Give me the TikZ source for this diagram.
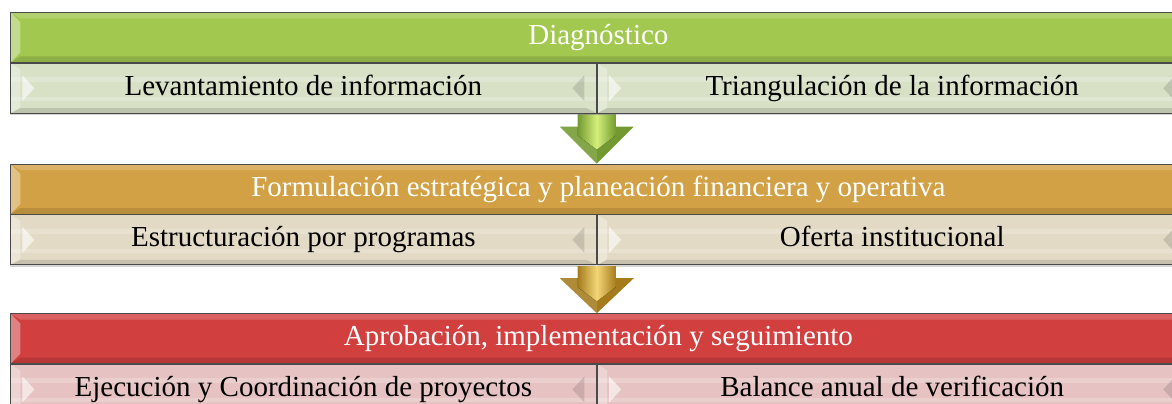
\documentclass[tikz,border=0pt]{standalone}
\usepackage{fontspec}
\setmainfont{Liberation Serif}
\usetikzlibrary{calc}
\usetikzlibrary{positioning}
\usetikzlibrary{shadows}

\definecolor{borde}{HTML}{4A4A4A}
\definecolor{verde}{HTML}{A2C84F}
\definecolor{verdesub}{HTML}{D8E0C6}
\definecolor{verdeclaro}{HTML}{D4EE7A}
\definecolor{verdeosc}{HTML}{739A30}
\definecolor{oro}{HTML}{D2A145}
\definecolor{orosub}{HTML}{E3DAC5}
\definecolor{oroclaro}{HTML}{F4D676}
\definecolor{orooscuro}{HTML}{A47C1E}
\definecolor{rojo}{HTML}{D13F3F}
\definecolor{rojosub}{HTML}{E6C2C2}

\begin{document}
\begin{tikzpicture}[x=1pt, y=-1pt,
    every node/.style={inner sep=0pt, text height=20pt, text depth=6pt,
      font=\fontsize{29}{34}\selectfont},
    cabeza/.style={draw=borde, line width=0.8pt, minimum width=1176pt,
      minimum height=50pt, text=white,
      path picture={
        \fill[white, opacity=.35] (path picture bounding box.north west)
          -- ([shift={(10pt,-10pt)}]path picture bounding box.north west)
          -- ([shift={(10pt,10pt)}]path picture bounding box.south west)
          -- (path picture bounding box.south west) -- cycle;
        \fill[white, opacity=.18] (path picture bounding box.north west)
          -- (path picture bounding box.north east)
          -- ([shift={(-10pt,-6pt)}]path picture bounding box.north east)
          -- ([shift={(10pt,-6pt)}]path picture bounding box.north west) -- cycle;
        \fill[black, opacity=.12] (path picture bounding box.south west)
          -- (path picture bounding box.south east)
          -- ([shift={(-10pt,6pt)}]path picture bounding box.south east)
          -- ([shift={(10pt,6pt)}]path picture bounding box.south west) -- cycle;
      }},
    sub/.style={draw=borde, line width=0.8pt, minimum height=50pt, text=black,
      drop shadow={shadow xshift=0pt, shadow yshift=-2pt, opacity=.35},
      path picture={
        \fill[white, opacity=.2] ([yshift=-14pt]path picture bounding box.north west)
          rectangle ([yshift=-19pt]path picture bounding box.north east);
        \fill[white, opacity=.2] ([yshift=12pt]path picture bounding box.south west)
          rectangle ([yshift=16pt]path picture bounding box.south east);
        \fill[white, opacity=.3] (path picture bounding box.north west)
          -- ([shift={(10pt,-6pt)}]path picture bounding box.north west)
          -- ([shift={(10pt,6pt)}]path picture bounding box.south west)
          -- (path picture bounding box.south west) -- cycle;
        \fill[black, opacity=.12] (path picture bounding box.south west)
          -- (path picture bounding box.south east)
          -- ([shift={(-10pt,5pt)}]path picture bounding box.south east)
          -- ([shift={(10pt,5pt)}]path picture bounding box.south west) -- cycle;
        \fill[white, opacity=.6] ([shift={(12pt,13pt)}]path picture bounding box.west)
          -- ([shift={(24pt,0pt)}]path picture bounding box.west)
          -- ([shift={(12pt,-13pt)}]path picture bounding box.west) -- cycle;
        \fill[black, opacity=.12] ([shift={(-12pt,13pt)}]path picture bounding box.east)
          -- ([shift={(-24pt,0pt)}]path picture bounding box.east)
          -- ([shift={(-12pt,-13pt)}]path picture bounding box.east) -- cycle;
      }},
    subizq/.style={sub, minimum width=586pt},
    subder/.style={sub, minimum width=590pt}
  ]
  \clip (0,0) rectangle (1172,404);

  \node[cabeza, fill=verde, anchor=north west] (diag) at (10,12) {Diagnóstico};
  \node[subizq, fill=verdesub, below right=0pt and 0pt of diag.south west] (lev) {Levantamiento de información};
  \node[subder, fill=verdesub, right=0pt of lev] (tri) {Triangulación de la información};

  \node[cabeza, fill=oro, below right=50pt and 0pt of lev.south west] (form) {Formulación estratégica y planeación financiera y operativa};
  \node[subizq, fill=orosub, below right=0pt and 0pt of form.south west] (estr) {Estructuración por programas};
  \node[subder, fill=orosub, right=0pt of estr] (ofer) {Oferta institucional};

  \node[cabeza, fill=rojo, below right=48pt and 0pt of estr.south west] (apro) {Aprobación, implementación y seguimiento};
  \node[subizq, fill=rojosub, below right=0pt and 0pt of apro.south west] (ejec) {Ejecución y Coordinación de proyectos};
  \node[subder, fill=rojosub, right=0pt of ejec] (bal) {Balance anual de verificación};

  % flechas entre etapas
  \foreach \de/\a/\cl/\os in {lev/form/verdeclaro/verdeosc, estr/apro/oroclaro/orooscuro} {
    \fill[\os] ($(\de.south east)+(-37,13)$) -- ($(\de.south east)+(37,13)$)
      -- (\de.south east |- \a.north) -- cycle;
    \fill[white, opacity=.12] ($(\de.south east)+(-37,13)$) -- ($(\de.south east)+(0,13)$)
      -- (\de.south east |- \a.north) -- cycle;
    \fill[left color=\os, right color=\os, middle color=\cl]
      ($(\de.south east)+(-19,1)$) -- ($(\de.south east)+(19,1)$)
      -- ($(\de.south east)+(19,22)$) -- ($(\de.south east)+(0,36)$)
      -- ($(\de.south east)+(-19,22)$) -- cycle;
  }
\end{tikzpicture}
\end{document}
